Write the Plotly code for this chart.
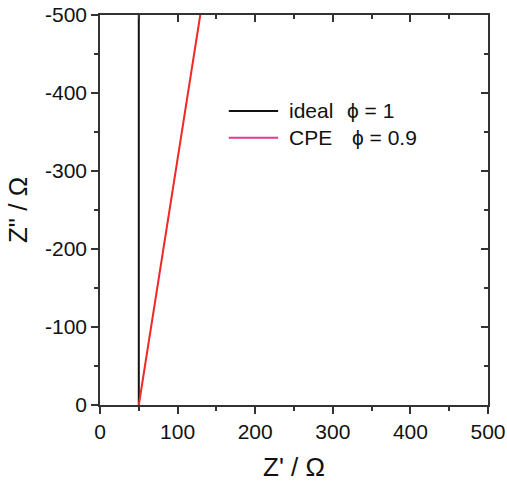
import plotly.graph_objects as go

# Data
ideal_x = [50, 50]
ideal_y = [0, -500]
cpe_x = [50, 129.2]
cpe_y = [0, -500]
tick_vals = [0, 100, 200, 300, 400, 500]
tick_text = ["0", "100", "200", "300", "400", "500"]
ytick_vals = [0, -100, -200, -300, -400, -500]
ytick_text = ["0", "-100", "-200", "-300", "-400", "-500"]
legend_labels = ["ideal", "CPE"]
legend_phi = ["\u03d5 = 1", "\u03d5 = 0.9"]

FONT = "Liberation Sans, Arial, sans-serif"
AX = "#333333"

fig = go.Figure()
fig.add_trace(go.Scatter(x=ideal_x, y=ideal_y, mode="lines",
                         line=dict(color="#111111", width=2), showlegend=False))
fig.add_trace(go.Scatter(x=cpe_x, y=cpe_y, mode="lines",
                         line=dict(color="#f02828", width=2), showlegend=False))
# invisible trace for mirrored axes
fig.add_trace(go.Scatter(x=[0], y=[0], xaxis="x2", yaxis="y2", mode="markers",
                         marker=dict(opacity=0), showlegend=False, hoverinfo="skip"))

common = dict(showline=True, linecolor=AX, linewidth=1.5, showgrid=False, zeroline=False,
              tickcolor=AX, tickwidth=1.5, ticklen=7, automargin=False)

fig.update_layout(
    width=507, height=488,
    margin=dict(l=100, r=19, t=15, b=83),
    paper_bgcolor="white", plot_bgcolor="white",
    font=dict(family=FONT, color="#111111", size=21),
    xaxis=dict(range=[0, 500], tickvals=tick_vals, ticktext=tick_text, ticks="outside",
               minor=dict(ticks="outside", dtick=50, ticklen=4, tickcolor=AX, tickwidth=1.5),
               title=dict(text="Z' / \u03a9", font=dict(size=26), standoff=16),
               tickfont=dict(size=21), **common),
    yaxis=dict(range=[0, -500], tickvals=ytick_vals, ticktext=ytick_text, ticks="outside",
               minor=dict(ticks="outside", dtick=50, ticklen=4, tickcolor=AX, tickwidth=1.5),
               title=dict(text='Z" / \u03a9', font=dict(size=26), standoff=10),
               tickfont=dict(size=21), **common),
    xaxis2=dict(overlaying="x", side="top", range=[0, 500], tickvals=tick_vals,
                ticks="inside", showticklabels=False,
                minor=dict(ticks="inside", dtick=50, ticklen=4, tickcolor=AX, tickwidth=1.5),
                **common),
    yaxis2=dict(overlaying="y", side="right", range=[0, -500], tickvals=ytick_vals,
                ticks="inside", showticklabels=False,
                minor=dict(ticks="inside", dtick=50, ticklen=4, tickcolor=AX, tickwidth=1.5),
                **common),
)

# manual legend
leg_colors = ["#111111", "#e8388a"]
leg_y = [0.754, 0.685]
phi_x = [0.632, 0.645]
for i in range(2):
    fig.add_shape(type="line", xref="paper", yref="paper", x0=0.332, x1=0.459,
                  y0=leg_y[i], y1=leg_y[i], line=dict(color=leg_colors[i], width=2))
    fig.add_annotation(xref="paper", yref="paper", x=0.483, y=leg_y[i], text=legend_labels[i],
                       showarrow=False, xanchor="left", yanchor="middle", font=dict(size=21))
    fig.add_annotation(xref="paper", yref="paper", x=phi_x[i], y=leg_y[i], text=legend_phi[i],
                       showarrow=False, xanchor="left", yanchor="middle", font=dict(size=21))

fig.write_html("out.html", config={"displayModeBar": False},
               post_script="document.body.style.margin='0';document.body.style.overflow='hidden';")
